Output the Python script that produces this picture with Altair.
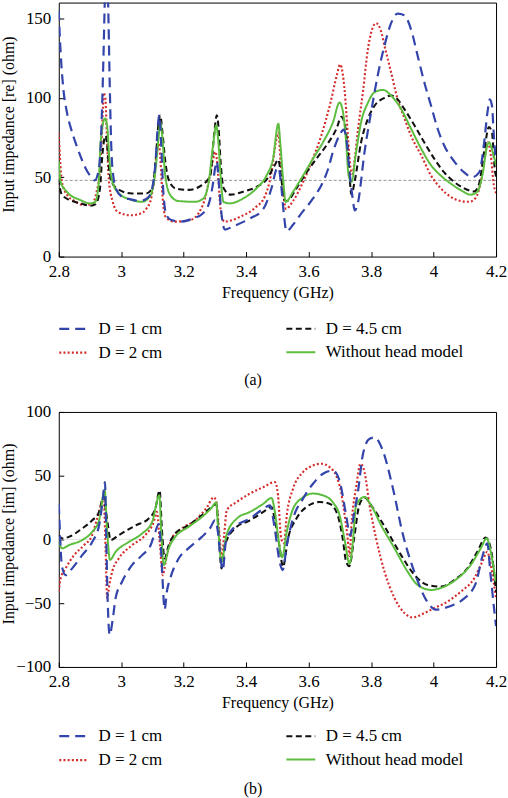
import altair as alt
import pandas as pd

FONT = "Liberation Serif"

# legend order (column-major in a 2-column legend)
SERIES = ["D = 1 cm", "D = 2 cm", "D = 4.5 cm", "Without head model"]
COLORS = ["#3344aa", "#d42b2b", "#111111", "#5cbd3e"]
DASHES = [[10, 6], [2, 2.2], [6, 3.5], [1, 0]]
WIDTHS = [2.2, 2.0, 2.0, 2.6]
DRAW_ORDER = ["D = 2 cm", "D = 4.5 cm", "Without head model", "D = 1 cm"]

XTICKS = [2.8, 3.0, 3.2, 3.4, 3.6, 3.8, 4.0, 4.2]
A_YTICKS = [0, 50, 100, 150]
B_YTICKS = [-100, -50, 0, 50, 100]

# ---------------- panel (a): real part (freq GHz, ohm) ----------------
A_D1 = [(2.800,155),(2.803,140),(2.808,122),(2.815,105),(2.825,92),(2.840,80),(2.855,71),(2.870,63),
        (2.885,56),(2.900,51),(2.915,48),(2.925,52),(2.933,65),(2.938,90),(2.943,125),(2.948,165),
        (2.953,185),(2.958,160),(2.963,110),(2.968,70),(2.975,50),(2.985,42),(3.000,38),(3.030,36),
        (3.060,35),(3.085,37),(3.100,44),(3.110,60),(3.117,82),(3.122,89),(3.128,70),(3.135,40),
        (3.145,26),(3.160,23),(3.190,22),(3.230,24),(3.260,27),(3.280,33),(3.293,45),(3.300,55),
        (3.306,60),(3.313,45),(3.322,25),(3.332,17),(3.358,19),(3.412,24),(3.455,30),(3.481,43),
        (3.497,55),(3.503,56),(3.512,45),(3.520,28),(3.529,16),(3.550,20),(3.572,26),(3.614,36.6),
        (3.646,47),(3.662,55),(3.678,66),(3.699,76.5),(3.712,80),(3.720,75),(3.730,55),(3.740,38),
        (3.748,29),(3.758,34),(3.779,66),(3.800,91),(3.821,114),(3.843,133),(3.864,147),(3.885,153),
        (3.906,152),(3.928,143),(3.949,126.5),(3.970,110),(3.992,95),(4.013,80.5),(4.034,70),
        (4.066,60),(4.098,53),(4.124,50),(4.146,53),(4.162,72),(4.172,90),(4.180,99),(4.187,95),
        (4.193,76),(4.200,60)]
A_D2 = [(2.800,78),(2.804,62),(2.810,47),(2.826,39),(2.850,35),(2.880,32.5),(2.906,33),(2.920,40),
        (2.932,55),(2.938,76),(2.944,103),(2.949,100),(2.954,76),(2.960,49),(2.972,35),(2.990,28),
        (3.030,26),(3.060,27),(3.080,30),(3.095,36),(3.105,49),(3.115,68),(3.120,72),(3.125,62),
        (3.133,36),(3.142,25),(3.170,22),(3.220,23),(3.250,28),(3.270,38),(3.288,55),(3.302,66),
        (3.309,55),(3.318,30),(3.330,22),(3.380,25),(3.430,31),(3.460,38),(3.480,52),(3.495,72),
        (3.503,78),(3.510,60),(3.520,38),(3.527,30),(3.550,35),(3.580,46),(3.610,60),(3.640,76),
        (3.670,97),(3.690,114),(3.701,121),(3.710,114),(3.718,98),(3.726,75),(3.734,56),(3.740,52),
        (3.748,62),(3.758,80),(3.774,104),(3.790,131),(3.803,143),(3.816,147),(3.830,143),(3.845,131),
        (3.864,116),(3.885,99),(3.907,87),(3.928,76),(3.960,64),(3.992,51),(4.023,43),(4.055,37.6),
        (4.087,35),(4.114,34.5),(4.135,37),(4.151,47),(4.165,64),(4.174,72),(4.183,64),(4.193,45),
        (4.200,40)]
A_D45 = [(2.800,49),(2.806,41),(2.815,38),(2.835,35.6),(2.870,33.5),(2.902,32),(2.918,33),(2.932,43),
         (2.938,60),(2.944,72),(2.950,76),(2.956,68),(2.961,55),(2.972,46),(2.993,42),(3.035,39.7),
         (3.078,39.7),(3.100,43),(3.110,60),(3.120,85),(3.125,89),(3.131,80),(3.141,60),(3.151,49),
         (3.173,43),(3.215,42),(3.258,45),(3.285,51),(3.297,76),(3.306,89),(3.312,80),(3.318,60),
         (3.328,43),(3.350,39),(3.392,41),(3.435,44),(3.467,49),(3.490,57),(3.503,61),(3.512,50),
         (3.522,36),(3.530,35),(3.561,43),(3.593,53),(3.625,61.7),(3.657,70),(3.689,80.5),(3.705,88),
         (3.715,84),(3.726,66),(3.737,39),(3.747,47),(3.768,72),(3.790,87),(3.811,95),(3.843,100),
         (3.864,101.4),(3.885,99),(3.906,93),(3.939,82.6),(3.970,72),(4.002,61.7),(4.034,53),
         (4.066,47),(4.098,43),(4.130,41),(4.146,46),(4.162,66),(4.177,81.6),(4.187,78),(4.196,55),
         (4.200,50)]
A_NOHEAD = [(2.800,60),(2.806,47),(2.826,40.8),(2.869,35.6),(2.901,33.5),(2.917,34.5),(2.928,47),
            (2.934,72),(2.948,87),(2.956,80.5),(2.961,64),(2.972,47),(2.993,39.7),(3.035,35.6),
            (3.067,34.5),(3.094,38.7),(3.110,55),(3.120,76),(3.125,84.7),(3.131,76),(3.141,51),
            (3.157,38.7),(3.183,35),(3.236,34.5),(3.263,36.6),(3.280,47),(3.294,70),(3.304,82.6),
            (3.311,72),(3.318,51),(3.327,34.5),(3.348,33.5),(3.390,36.6),(3.433,43),(3.465,51),
            (3.486,61.7),(3.503,83.6),(3.509,72),(3.519,47),(3.527,34.5),(3.550,40.8),(3.582,51),
            (3.614,61.7),(3.646,72),(3.678,84.7),(3.699,97),(3.710,91),(3.720,72),(3.728,51),
            (3.737,47),(3.752,66),(3.768,84.7),(3.790,97),(3.811,103.5),(3.838,105),(3.864,101.4),
            (3.896,93),(3.928,80.5),(3.960,68),(3.992,57.5),(4.023,51),(4.055,46),(4.087,41.8),
            (4.119,39),(4.140,40.8),(4.156,51),(4.172,70),(4.178,72),(4.186,68),(4.200,57.5)]

# ---------------- panel (b): imaginary part ----------------
B_D1 = [(2.800,28),(2.803,10),(2.807,-12),(2.813,-24),(2.822,-28),(2.843,-22.7),(2.875,-12.3),
        (2.907,-2),(2.929,11),(2.940,29),(2.948,45),(2.952,1),(2.957,-51),(2.963,-75),(2.972,-64),
        (2.982,-46),(3.003,-33),(3.035,-20),(3.067,-12.3),(3.094,-4.5),(3.109,6),(3.120,12),
        (3.128,-10),(3.133,-35),(3.139,-55),(3.146,-41),(3.157,-30.5),(3.184,-15),(3.215,-7),
        (3.258,2),(3.285,9),(3.300,15),(3.310,5),(3.318,-15),(3.325,-24),(3.335,-2),(3.358,8.6),
        (3.412,16.4),(3.455,24),(3.476,26.8),(3.490,11),(3.507,-17.5),(3.517,-24),(3.530,-4.5),
        (3.550,16.4),(3.582,32),(3.614,43.7),(3.646,51.5),(3.678,54),(3.700,45),(3.720,19),
        (3.733,3),(3.745,20),(3.757,36),(3.774,67),(3.795,79),(3.811,80),(3.837,70),(3.869,41),
        (3.901,4.7),(3.944,-29.2),(3.976,-47.4),(4.007,-55),(4.050,-52.6),(4.092,-47.4),
        (4.135,-34.4),(4.156,-13.6),(4.172,-3),(4.182,-26.6),(4.193,-52.6),(4.200,-68)]
B_D2 = [(2.800,-41),(2.806,-30.5),(2.822,-22.7),(2.849,-12.3),(2.881,-4.5),(2.907,3.4),(2.923,16.4),
        (2.944,30.7),(2.949,0.8),(2.955,-46),(2.962,-35.7),(2.971,-25.3),(2.992,-15),(3.035,-4.5),
        (3.077,3.4),(3.104,13.8),(3.114,21.6),(3.124,-4.5),(3.133,-28),(3.142,-17.5),(3.162,0.8),
        (3.194,8.6),(3.237,15),(3.275,25.5),(3.296,33),(3.304,30),(3.313,8),(3.322,-14),(3.330,5),
        (3.338,23),(3.370,29.4),(3.412,36),(3.455,41),(3.492,45),(3.502,34.6),(3.512,0.8),
        (3.521,-3),(3.530,19),(3.550,39.8),(3.582,52.8),(3.614,58),(3.641,59.4),(3.667,56.7),
        (3.688,50),(3.704,37),(3.714,21.6),(3.725,0.8),(3.731,-13),(3.737,11),(3.753,42.4),
        (3.766,59.4),(3.779,52.8),(3.795,26.8),(3.816,0.8),(3.843,-25.3),(3.875,-46),(3.907,-57.8),
        (3.933,-61.2),(3.970,-57.8),(4.002,-53.9),(4.045,-48.7),(4.087,-41),(4.130,-30.5),
        (4.156,-17.5),(4.172,-9.7),(4.183,-20),(4.200,-46)]
B_D45 = [(2.800,3.4),(2.811,0.8),(2.832,2),(2.875,8.6),(2.907,15),(2.929,21.6),(2.944,34),(2.950,24),
         (2.956,13.8),(2.966,-0.5),(2.992,3.4),(3.046,11),(3.088,16.4),(3.109,24),(3.123,38.5),
         (3.130,8.6),(3.139,-15),(3.152,-4.5),(3.173,4.7),(3.215,11),(3.258,19),(3.290,25.5),
         (3.304,28),(3.313,0.8),(3.321,-22.7),(3.332,-4.5),(3.364,8.6),(3.412,15),(3.455,21.6),
         (3.481,25.5),(3.492,15),(3.506,-4.5),(3.518,-21.4),(3.534,0.8),(3.561,16.4),(3.593,25.5),
         (3.635,29.4),(3.667,28),(3.693,19),(3.709,0.8),(3.720,-17.5),(3.730,-21),(3.745,0),
         (3.762,26.8),(3.779,33),(3.800,26.8),(3.853,6),(3.896,-12.3),(3.939,-27.9),(3.981,-35.7),
         (4.024,-37),(4.066,-31.8),(4.108,-22.7),(4.140,-9.7),(4.167,1.5),(4.183,-7),(4.200,-41)]
B_NOHEAD = [(2.800,-2),(2.811,-7),(2.832,-4.5),(2.875,-0.5),(2.907,6),(2.929,15),(2.947,38.5),
            (2.955,6),(2.964,-16),(2.982,-9.7),(3.024,-2),(3.067,4.7),(3.099,13.8),(3.122,34.6),
            (3.128,6),(3.136,-20),(3.152,-7),(3.173,2),(3.215,9.8),(3.258,17.6),(3.290,25),
            (3.304,29),(3.311,6),(3.321,-17.5),(3.337,3.4),(3.370,16.4),(3.412,21.6),(3.455,28),
            (3.481,32.5),(3.492,21.6),(3.503,0.8),(3.515,-14),(3.530,6),(3.550,24),(3.582,33),
            (3.614,36),(3.646,34.6),(3.678,29),(3.699,19),(3.715,0),(3.731,-19),(3.740,-6),
            (3.752,26.8),(3.779,33.3),(3.800,26.8),(3.832,11.2),(3.875,-7),(3.917,-25.3),
            (3.949,-35.7),(3.992,-39.6),(4.034,-37),(4.077,-30.5),(4.119,-20),(4.151,-7),
            (4.170,0.8),(4.183,-9.7),(4.199,-33)]

PANEL_A = {"D = 1 cm": A_D1, "D = 2 cm": A_D2, "D = 4.5 cm": A_D45, "Without head model": A_NOHEAD}
PANEL_B = {"D = 1 cm": B_D1, "D = 2 cm": B_D2, "D = 4.5 cm": B_D45, "Without head model": B_NOHEAD}

W = 439


def panel(data, ydom, yticks, ytitle, ref, ref_style, caption, legend_y, height):
    rows = []
    for name in DRAW_ORDER:
        for f, v in data[name]:
            rows.append({"freq": f, "val": v, "series": name})
    df = pd.DataFrame(rows)

    leg = alt.Legend(title=None, orient="none", legendX=-1, legendY=legend_y, columns=2,
                     direction="vertical", columnPadding=120, rowPadding=-6,
                     symbolType="stroke", symbolSize=841,
                     symbolStrokeWidth=2, labelFont=FONT, labelFontSize=17, labelColor="#000",
                     labelOffset=9, padding=0, labelLimit=300)
    xaxis = alt.Axis(values=XTICKS, format="~g", title="Frequency (GHz)", labelFont=FONT,
                     titleFont=FONT, labelFontSize=17, titleFontSize=16, titleFontWeight="normal",
                     labelColor="#000", titleColor="#000", tickColor="#000",
                     tickSize={"expr": "-5"}, labelPadding=12, titlePadding=5, domain=False,
                     grid=False, labelFlush=False, labelOverlap=False)
    yaxis = alt.Axis(values=yticks, format="d", title=ytitle, labelFont=FONT, titleFont=FONT,
                     labelFontSize=17, titleFontSize=16, titleFontWeight="normal",
                     labelColor="#000", titleColor="#000", tickColor="#000",
                     tickSize={"expr": "-5"}, labelPadding=13, titleX=-42, titleY=122,
                     domain=False, grid=False, labelFlush=False, labelOverlap=False)

    lines = alt.Chart(df).mark_line(clip=True, interpolate="monotone").encode(
        x=alt.X("freq:Q", scale=alt.Scale(domain=[2.8, 4.2], nice=False, zero=False), axis=xaxis),
        y=alt.Y("val:Q", scale=alt.Scale(domain=ydom, nice=False, zero=False), axis=yaxis),
        color=alt.Color("series:N", scale=alt.Scale(domain=SERIES, range=COLORS), legend=leg),
        strokeDash=alt.StrokeDash("series:N", scale=alt.Scale(domain=SERIES, range=DASHES), legend=leg),
        strokeWidth=alt.StrokeWidth("series:N", scale=alt.Scale(domain=SERIES, range=WIDTHS), legend=None),
    )
    rule = alt.Chart(pd.DataFrame({"ref": [ref]})).mark_rule(**ref_style).encode(
        y=alt.Y("ref:Q", title=ytitle)
    )
    cap = alt.Chart(pd.DataFrame({"cap": [caption]})).mark_text(
        font=FONT, fontSize=16, color="#000"
    ).encode(text="cap:N", x=alt.value(195), y=alt.value(379))
    return alt.layer(rule, lines, cap).properties(width=W, height=height)


a = panel(PANEL_A, [0, 160], A_YTICKS, "Input impedance [re] (ohm)", 48,
          dict(color="#666666", strokeWidth=0.7, strokeDash=[3, 2]), "(a)", 311.5, 255)
b = panel(PANEL_B, [-100, 100], B_YTICKS, "Input impedance [im] (ohm)", 0,
          dict(color="#dddddd", strokeWidth=0.8), "(b)", 309.5, 256)

chart = alt.vconcat(a, b, spacing=156, bounds="flush").resolve_scale(
    color="independent", strokeDash="independent", strokeWidth="independent"
).resolve_legend(
    color="independent", strokeDash="independent"
).configure_view(stroke="#000", strokeWidth=1).properties(
    padding={"left": 0, "top": 0, "right": 0, "bottom": 0},
    background="white",
)

chart.save("out.html", embed_options={"renderer": "svg", "actions": False})
